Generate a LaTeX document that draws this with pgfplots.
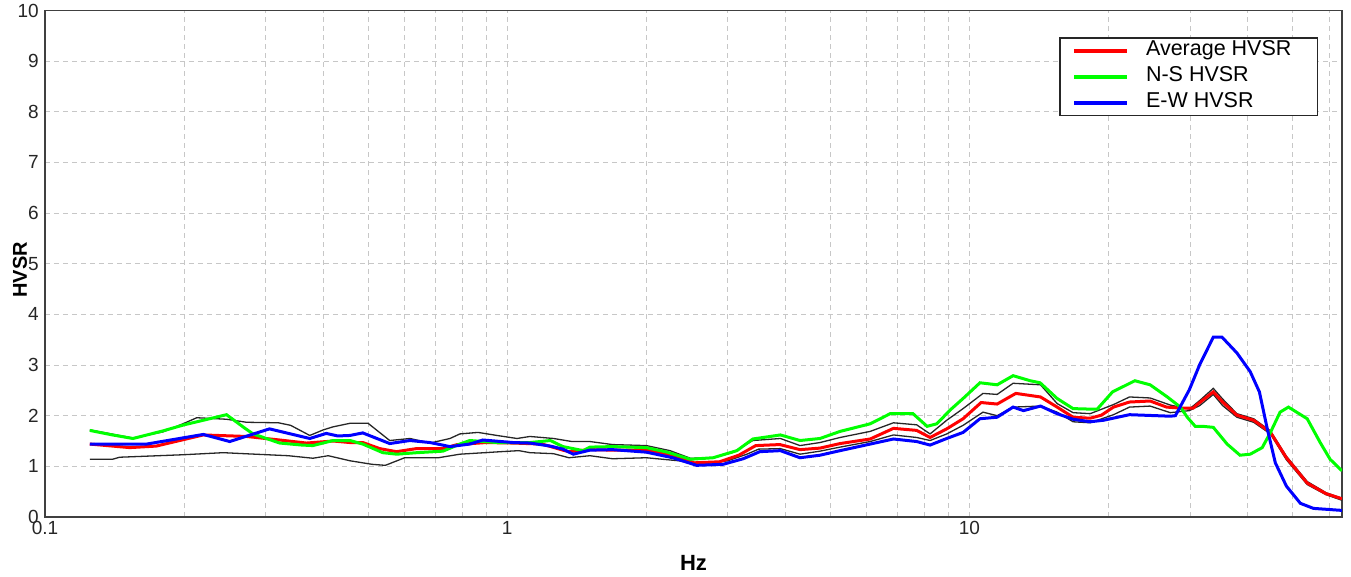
\documentclass[border=0pt]{standalone}
\usepackage{fontspec}
\setmainfont{Liberation Sans}
\usepackage{pgfplots}
\pgfplotsset{compat=1.18}
\begin{document}
\begin{tikzpicture}
\useasboundingbox (-45bp,-60bp) rectangle (1306bp,517bp);
\begin{axis}[
  at={(0,0)}, anchor=south west,
  scale only axis, width=1297bp, height=506.5bp,
  xmode=log, xmin=0.1, xmax=64, ymin=0, ymax=10,
  xtick={0.1,1,10}, xticklabels={0.1,1,10},
  minor xtick={0.2,0.3,0.4,0.5,0.6,0.7,0.8,0.9,2,3,4,5,6,7,8,9,20,30,40,50,60},
  ytick={0,1,2,3,4,5,6,7,8,9,10},
  grid=both,
  grid style={color=black!22, dash pattern=on 5bp off 4bp, line width=0.9bp},
  minor grid style={color=black!22, dash pattern=on 5bp off 4bp, line width=0.9bp},
  major grid style={color=black!22, dash pattern=on 5bp off 4bp, line width=0.9bp},
  tick style={draw=none},
  axis line style={line width=1.6bp, color=black!75},
  tick label style={font=\fontsize{19bp}{19bp}\selectfont, text=black!85},
  yticklabel style={anchor=east, inner sep=0pt, xshift=-6bp},
  xticklabel style={anchor=north, inner sep=0pt, yshift=-4bp},
  /pgf/number format/assume math mode=true,
  xlabel={\textbf{Hz}}, ylabel={\textbf{HVSR}},
  xlabel style={at={(axis description cs:0.5,-0.0898)}, anchor=center, font=\fontsize{22bp}{22bp}\selectfont},
  ylabel style={at={(axis description cs:-0.0193,0.488)}, anchor=center, font=\fontsize{20bp}{20bp}\selectfont},
  legend style={at={(0.9815,0.947)}, anchor=north east, draw=black!85, line width=1.2bp, fill=white,
    font=\fontsize{21.5bp}{21.5bp}\selectfont, inner xsep=12bp, inner ysep=3bp, row sep=6.5bp,
    nodes={inner sep=0bp, text height=15bp, text depth=4.5bp},
    /tikz/every odd column/.append style={column sep=17bp}},
  legend cell align=left,
  legend image code/.code={\draw[#1, line width=4bp] (0bp,0bp) -- (53bp,0bp);},
]
% upper std line
\addplot[black!85, line width=1.3bp, forget plot] coordinates {
(0.125,1.72)(0.155,1.56)(0.18,1.68)(0.2,1.85)(0.213,1.96)(0.247,1.93)(0.273,1.87)(0.32,1.86)(0.34,1.81)(0.374,1.61)(0.40,1.72)(0.42,1.78)(0.457,1.85)(0.50,1.85)(0.557,1.51)(0.616,1.55)(0.681,1.46)(0.752,1.55)(0.79,1.64)(0.865,1.67)(0.95,1.61)(1.05,1.55)(1.12,1.59)(1.26,1.55)(1.38,1.49)(1.51,1.49)(1.69,1.43)(2.0,1.41)(2.25,1.31)(2.49,1.16)(2.79,1.17)(3.07,1.27)(3.4,1.51)(3.9,1.55)(4.3,1.41)(4.75,1.47)(5.25,1.57)(6.1,1.69)(6.85,1.86)(7.69,1.82)(8.22,1.64)(8.93,1.91)(9.69,2.14)(10.7,2.44)(11.48,2.42)(12.43,2.64)(14.25,2.61)(15.48,2.24)(16.76,2.06)(18.25,2.04)(20.5,2.22)(22.2,2.37)(24.6,2.35)(27.2,2.21)(29.9,2.13)(31.5,2.30)(33.7,2.54)(35.3,2.33)(37.9,2.04)(41.2,1.94)(44.8,1.70)(48.5,1.20)(53.8,0.70)(59.1,0.48)(64,0.37)};
% lower std line
\addplot[black!85, line width=1.3bp, forget plot] coordinates {
(0.125,1.14)(0.14,1.14)(0.145,1.18)(0.2,1.23)(0.243,1.27)(0.27,1.25)(0.336,1.21)(0.38,1.16)(0.41,1.21)(0.457,1.11)(0.51,1.04)(0.545,1.02)(0.60,1.17)(0.71,1.17)(0.79,1.24)(0.97,1.29)(1.06,1.31)(1.12,1.27)(1.26,1.25)(1.36,1.17)(1.51,1.21)(1.69,1.15)(2.0,1.17)(2.35,1.11)(2.61,1.04)(3.0,1.11)(3.3,1.24)(3.5,1.34)(3.9,1.35)(4.3,1.24)(4.75,1.30)(5.25,1.38)(6.1,1.49)(6.85,1.62)(7.69,1.57)(8.22,1.51)(8.93,1.64)(9.69,1.81)(10.7,2.07)(11.48,2.00)(12.43,2.17)(14.25,2.19)(15.48,2.07)(16.76,1.88)(18.25,1.86)(20.5,2.02)(22.2,2.17)(24.6,2.19)(27.2,2.06)(29.9,2.10)(31.5,2.20)(33.7,2.42)(35.3,2.20)(37.9,1.97)(41.2,1.87)(44.8,1.64)(48.5,1.13)(53.8,0.64)(59.1,0.44)(64,0.33)};
% average
\addplot[red, line width=3bp] coordinates {
(0.125,1.44)(0.1525,1.37)(0.174,1.40)(0.22,1.62)(0.273,1.59)(0.322,1.52)(0.368,1.46)(0.42,1.50)(0.457,1.47)(0.487,1.47)(0.53,1.35)(0.576,1.29)(0.636,1.35)(0.726,1.35)(0.78,1.43)(0.90,1.47)(1.03,1.46)(1.19,1.44)(1.32,1.32)(1.36,1.29)(1.51,1.33)(1.69,1.32)(2.0,1.32)(2.22,1.24)(2.54,1.07)(2.88,1.09)(3.17,1.22)(3.45,1.41)(3.89,1.43)(4.3,1.33)(4.75,1.36)(5.25,1.45)(6.1,1.54)(6.85,1.75)(7.69,1.71)(8.22,1.57)(8.93,1.74)(9.69,1.94)(10.6,2.26)(11.48,2.23)(12.6,2.44)(14.25,2.37)(15.48,2.17)(16.76,1.97)(18.25,1.95)(19.3,2.01)(20.5,2.17)(22.2,2.27)(24.6,2.29)(26.7,2.17)(28.6,2.15)(30.5,2.15)(31.0,2.21)(33.7,2.47)(35.3,2.27)(37.9,2.01)(41.2,1.91)(44.8,1.67)(48.5,1.17)(53.8,0.67)(59.1,0.46)(64,0.36)};
% N-S
\addplot[green, line width=3bp] coordinates {
(0.125,1.71)(0.14,1.62)(0.155,1.55)(0.18,1.70)(0.2,1.82)(0.22,1.91)(0.247,2.02)(0.27,1.76)(0.282,1.64)(0.322,1.46)(0.36,1.42)(0.38,1.41)(0.42,1.51)(0.457,1.51)(0.487,1.44)(0.538,1.27)(0.577,1.24)(0.638,1.27)(0.726,1.30)(0.79,1.44)(0.83,1.51)(0.95,1.47)(1.12,1.47)(1.24,1.51)(1.32,1.39)(1.46,1.31)(1.51,1.38)(1.69,1.39)(2.0,1.37)(2.22,1.28)(2.49,1.14)(2.79,1.17)(3.14,1.31)(3.4,1.54)(3.9,1.62)(4.3,1.51)(4.75,1.55)(5.25,1.69)(5.52,1.74)(6.1,1.84)(6.74,2.04)(7.55,2.04)(8.1,1.79)(8.5,1.84)(9.08,2.11)(9.69,2.34)(10.54,2.65)(11.48,2.61)(12.43,2.79)(13.54,2.69)(14.22,2.65)(15.48,2.34)(16.76,2.14)(18.25,2.13)(18.9,2.13)(20.4,2.47)(22.8,2.69)(24.6,2.61)(26.8,2.37)(28.6,2.17)(29.6,1.97)(30.8,1.79)(32.0,1.79)(33.7,1.77)(36.1,1.44)(38.5,1.22)(40.5,1.24)(43.0,1.37)(44.8,1.67)(47.0,2.07)(49.0,2.17)(53.8,1.94)(57.4,1.47)(60.3,1.14)(64,0.91)};
% E-W
\addplot[blue, line width=3bp] coordinates {
(0.125,1.44)(0.166,1.44)(0.22,1.63)(0.251,1.49)(0.306,1.74)(0.374,1.55)(0.406,1.65)(0.43,1.60)(0.457,1.61)(0.487,1.66)(0.557,1.45)(0.616,1.51)(0.681,1.47)(0.752,1.39)(0.83,1.44)(0.886,1.52)(1.03,1.47)(1.12,1.46)(1.24,1.40)(1.32,1.34)(1.39,1.24)(1.51,1.32)(1.69,1.33)(2.0,1.28)(2.28,1.17)(2.57,1.02)(2.93,1.04)(3.24,1.15)(3.52,1.29)(3.9,1.31)(4.3,1.17)(4.75,1.22)(5.25,1.31)(6.1,1.44)(6.85,1.54)(7.69,1.49)(8.22,1.42)(8.93,1.55)(9.69,1.67)(10.54,1.94)(11.48,1.97)(12.43,2.17)(13.09,2.10)(14.25,2.19)(15.48,2.04)(16.76,1.93)(18.25,1.88)(19.5,1.91)(22.2,2.02)(27.2,1.99)(27.9,2.00)(29.9,2.51)(31.5,3.01)(33.7,3.55)(35.2,3.55)(37.9,3.24)(40.5,2.87)(42.4,2.47)(44.1,1.74)(45.9,1.07)(48.5,0.61)(52.0,0.27)(55.5,0.17)(64,0.13)};
\legend{Average HVSR\hspace*{14bp}, N-S HVSR, E-W HVSR}
\end{axis}
\end{tikzpicture}
\end{document}
